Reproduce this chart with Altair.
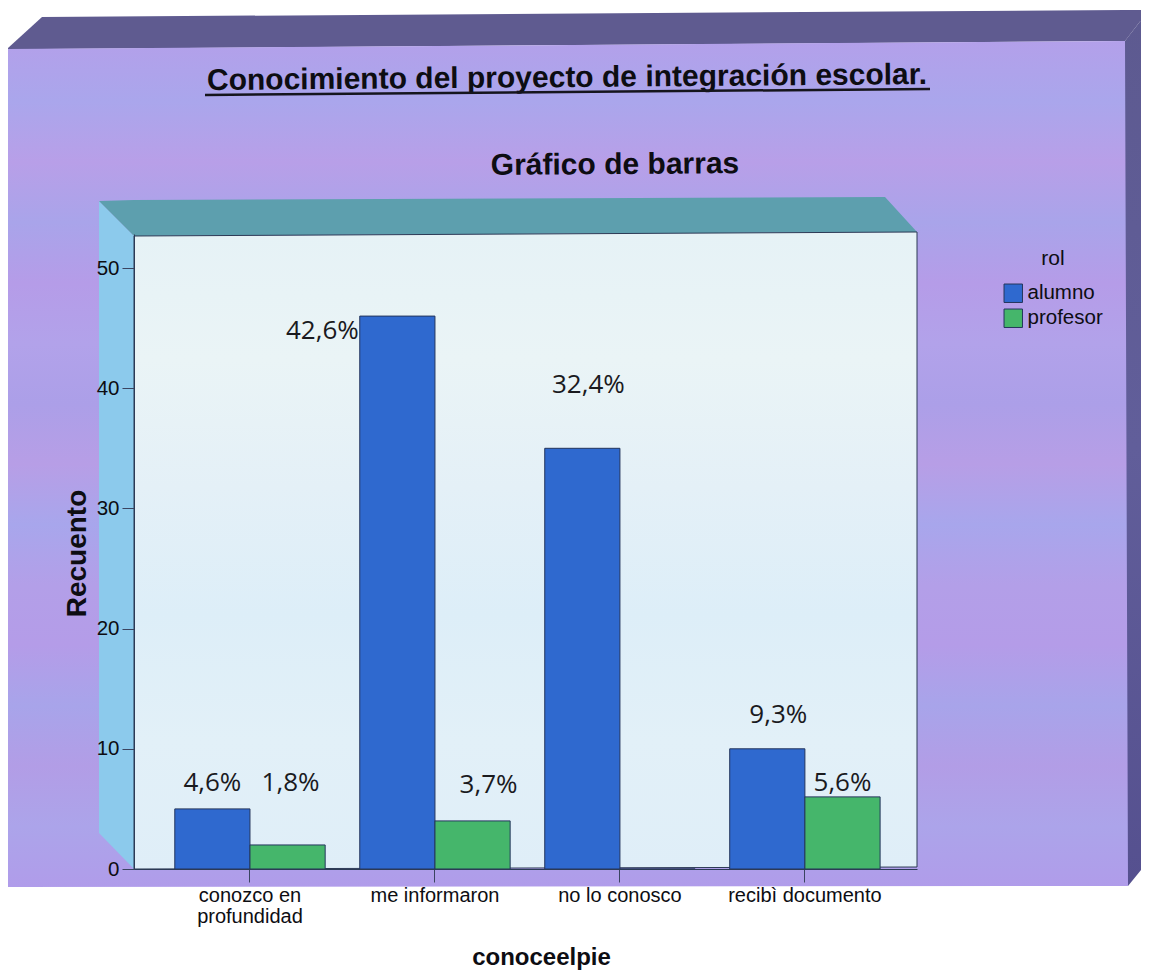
import altair as alt
import pandas as pd

categories = ["conozco en profundidad", "me informaron", "no lo conosco", "recibì documento"]
series = ["alumno", "profesor"]
alumno = [5, 46, 35, 10]
profesor = [2, 4, 0, 6]
label_rows = [
    ("conozco en profundidad", "alumno", 5, "4,6%"),
    ("conozco en profundidad", "profesor", 2, "1,8%"),
    ("me informaron", "alumno", 46, "42,6%"),
    ("me informaron", "profesor", 4, "3,7%"),
    ("no lo conosco", "alumno", 35, "32,4%"),
    ("recibì documento", "alumno", 10, "9,3%"),
    ("recibì documento", "profesor", 6, "5,6%"),
]
label_nudges = {"4,6%": (0, -26), "1,8%": (3, -62), "42,6%": (-75, 15), "3,7%": (16, -36),
                "32,4%": (6, -63), "9,3%": (11, -34), "5,6%": (0, -14)}

PL, PT, W, H = 134, 234, 783, 635
FONT = "Liberation Sans"
df = pd.DataFrame(
    [{"cat": c, "rol": "alumno", "n": v} for c, v in zip(categories, alumno)]
    + [{"cat": c, "rol": "profesor", "n": v} for c, v in zip(categories, profesor)]
)

px_x = alt.Scale(domain=[PL, PL + W], range=[0, W], zero=False, nice=False)
px_y = alt.Scale(domain=[PT + H, PT], range=[H, 0], zero=False, nice=False)
band = dict(paddingInner=0.187, paddingOuter=0.21, align=0.525)


def grad(stops, vertical=True):
    n = len(stops) - 1
    return alt.Gradient(
        gradient="linear",
        stops=[alt.GradientStop(color=c, offset=i / n) for i, c in enumerate(stops)],
        x1=0, x2=0 if vertical else 1, y1=0, y2=1 if vertical else 0,
    )


def poly(points, fill, **kw):
    d = pd.DataFrame(points, columns=["x", "y", "y2"])
    return alt.Chart(d).mark_area(color=fill, **kw).encode(
        x=alt.X("x:Q", scale=px_x, axis=None),
        y=alt.Y("y:Q", scale=px_y, axis=None),
        y2="y2:Q",
    )


def text(px, py, s, size, bold=False, align="center", angle=0, color="#0d0d12"):
    return alt.Chart(pd.DataFrame({"t": [s]})).mark_text(
        font=FONT, fontSize=size, fontWeight="bold" if bold else "normal",
        align=align, baseline="middle", angle=angle, color=color,
    ).encode(x=alt.value(px - PL), y=alt.value(py - PT), text="t:N")


panel_stops = ["#b3a0ea", "#aaa6ec", "#b89fe8", "#a9a4ea", "#b59ce8", "#b2a2ea", "#ac9fe8",
               "#b79ee6", "#a8a6ec", "#b39fe8", "#b49ce8", "#a8a4ea", "#b29de6", "#aca4ea", "#b09cea"]
wall_stops = ["#e6f2f6", "#eaf4f6", "#e4f0f7", "#ddeef8", "#e2f0f8", "#dfeef8"]

decor = [
    poly([(1125, 41, 886), (1128, 37, 886), (1149, 10, 860)], grad(["#5d5a90", "#615e9a", "#55508f"])),
    poly([(7, 49, 49), (42, 17, 49), (1125, 10, 41), (1149, 10, 10)], "#5f5b90"),
    poly([(7, 49, 887), (1125, 41, 886), (1128, 886, 886)], grad(panel_stops)),
    poly([(99, 201, 833), (134, 236, 869)], "#8ccaec"),
    poly([(99, 201, 201), (134, 200, 236), (885, 197, 232), (917, 232, 232)], "#5d9fae"),
    poly([(134, 236, 869), (917, 232, 867)], grad(wall_stops), stroke="#2c3a55", strokeWidth=1),
]

bars = alt.Chart(df).mark_bar(stroke="#24355c", strokeWidth=1).encode(
    x=alt.X(
        "cat:N", sort=categories,
        scale=alt.Scale(**band),
        axis=alt.Axis(
            title="conoceelpie", titleFont=FONT, titleFontSize=24, titleFontWeight="bold", titleColor="#0d0d12",
            titleX=541 - PL, titleY=957 - PT - H, titleBaseline="middle", labelFont=FONT, labelFontSize=20,
            labelColor="#0d0d12", labelAngle=0, labelPadding=3, labelLineHeight=21,
            labelExpr="datum.value == 'conozco en profundidad' ? ['conozco en', 'profundidad'] : datum.label",
            tickSize=13, tickColor="#3a4460", domainColor="#2c3a55", grid=False, labelLimit=200, zindex=1,
        ),
    ),
    xOffset=alt.XOffset("rol:N", sort=series),
    y=alt.Y(
        "n:Q", scale=alt.Scale(domain=[0, H / 12.02], nice=False),
        axis=alt.Axis(
            values=[0, 10, 20, 30, 40, 50], title="Recuento", titleFont=FONT, titleFontSize=28,
            titleFontWeight="bold", titleColor="#0d0d12", titleX=77 - PL, titleBaseline="middle",
            titleY=553 - PT, labelFont=FONT, labelFontSize=20.5,
            labelColor="#0d0d12", tickSize=12, tickColor="#3a4460", domainColor="#2c3a55", grid=False,
            labelPadding=3, zindex=1,
        ),
    ),
    color=alt.Color(
        "rol:N", sort=series,
        scale=alt.Scale(domain=series, range=["#2f69cf", "#45b66b"]),
        legend=alt.Legend(
            orient="none", legendX=1003 - PL, legendY=248 - PT, title="rol", titleFont=FONT, titleFontSize=21,
            titleFontWeight="normal", titleColor="#0d0d12", titleAnchor="middle", titlePadding=14,
            labelFont=FONT, labelFontSize=20.5, labelColor="#0d0d12", symbolType="square", symbolSize=340,
            symbolStrokeColor="#24355c", symbolStrokeWidth=1, rowPadding=2, labelOffset=4,
        ),
    ),
)

labels = []
for c, r, v, s in label_rows:
    dx, dy = label_nudges[s]
    labels.append(
        alt.Chart(pd.DataFrame({"cat": [c], "rol": [r], "n": [v], "s": [s]}))
        .mark_text(font="Open Sans", fontSize=26, color="#1a1a1e", dx=dx, dy=dy, baseline="middle", align="center")
        .encode(
            x=alt.X("cat:N", sort=categories, scale=alt.Scale(domain=categories, **band), axis=None),
            xOffset=alt.XOffset("rol:N", sort=series, scale=alt.Scale(domain=series)),
            y=alt.Y("n:Q", scale=alt.Scale(domain=[0, H / 12.02], nice=False), axis=None),
            text="s:N",
        )
    )

title_rule = alt.Chart(pd.DataFrame({"a": [1]})).mark_rule(color="#15151c", strokeWidth=2.5).encode(
    x=alt.value(205 - PL), x2=alt.value(930 - PL), y=alt.value(95 - PT), y2=alt.value(89 - PT)
)

chart = alt.layer(
    *decor,
    bars,
    *labels,
    text(567, 78, "Conocimiento del proyecto de integración escolar.", 30, bold=True, angle=359.53),
    title_rule,
    text(615, 165, "Gráfico de barras", 30, bold=True, angle=359.6),
).resolve_scale(x="independent", y="independent", color="independent").properties(
    width=W, height=H,
    autosize=alt.AutoSizeParams(type="none"),
    padding={"left": PL - 8, "top": PT - 8, "right": 1133 - (PL - 8) - W, "bottom": 965 - (PT - 8) - H},
    background="white",
).configure_view(stroke=None)

chart.save("out.html", embed_options={"renderer": "svg", "actions": False})
